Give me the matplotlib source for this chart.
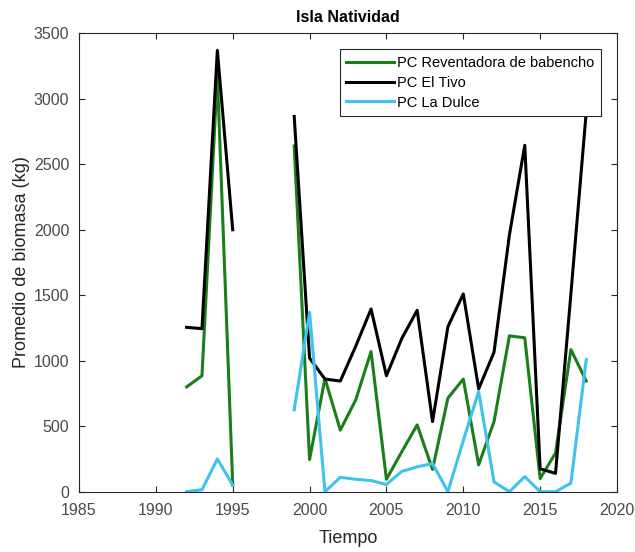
import numpy as np
import matplotlib
matplotlib.use('Agg')
import matplotlib.pyplot as plt

plt.rcParams['font.family'] = ['Liberation Sans', 'DejaVu Sans']

years = np.arange(1992, 2019)
nan = np.nan

# biomasa promedio por año (kg); huecos 1996-1998 sin muestreo
reventadora = [800, 885, 3180, 50, nan, nan, nan,
               2640, 245, 865, 470, 700, 1070, 95, 305, 510, 170, 715, 860,
               205, 535, 1190, 1175, 100, 295, 1085, 845]
el_tivo = [1255, 1245, 3370, 2000, nan, nan, nan,
           2865, 1020, 860, 845, 1110, 1395, 885, 1170, 1385, 535, 1260, 1510,
           785, 1065, 1960, 2645, 175, 140, 1510, 2900]
la_dulce = [0, 15, 250, 50, nan, nan, nan,
            625, 1370, 0, 110, 95, 85, 55, 155, 190, 215, 0, 390,
            765, 75, 0, 115, 0, 0, 65, 1010]

fig = plt.figure(figsize=(6.35, 5.52), dpi=100)
ax = fig.add_axes([79/635, 60.3/552, 538/635, 458.4/552])

ax.plot(years, reventadora, color='#1a7f1a', lw=2.2, label='PC Reventadora de babencho')
ax.plot(years, el_tivo, color='black', lw=2.2, label='PC El Tivo')
ax.plot(years, la_dulce, color='#3ec3ec', lw=2.2, label='PC La Dulce')

ax.set_xlim(1985, 2020)
ax.set_ylim(0, 3500)
ax.set_xticks(np.arange(1985, 2021, 5))
ax.set_yticks(np.arange(0, 3501, 500))
ax.tick_params(direction='in', top=True, right=True, labelsize=11.5,
               colors='#262626', labelcolor='#4a4a4a', length=4.5)
ax.tick_params(axis='x', pad=8)
ax.tick_params(axis='y', pad=7)
for s in ax.spines.values():
    s.set_color('#262626')
    s.set_linewidth(0.8)

ax.set_title('Isla Natividad', fontsize=11.5, fontweight='bold', pad=8)
ax.set_xlabel('Tiempo', fontsize=13, color='#262626', labelpad=9)
ax.set_ylabel('Promedio de biomasa (kg)', fontsize=13, color='#262626', labelpad=3)

leg = ax.legend(loc='upper right', fontsize=10.5, fancybox=False, framealpha=1,
                edgecolor='#262626', handlelength=3.3, handletextpad=0.2,
                labelspacing=0.4, borderaxespad=1.1, borderpad=0.45)
leg.get_frame().set_linewidth(0.8)
leg.set_zorder(5)

fig.savefig('out.png', dpi=100, facecolor='white')
